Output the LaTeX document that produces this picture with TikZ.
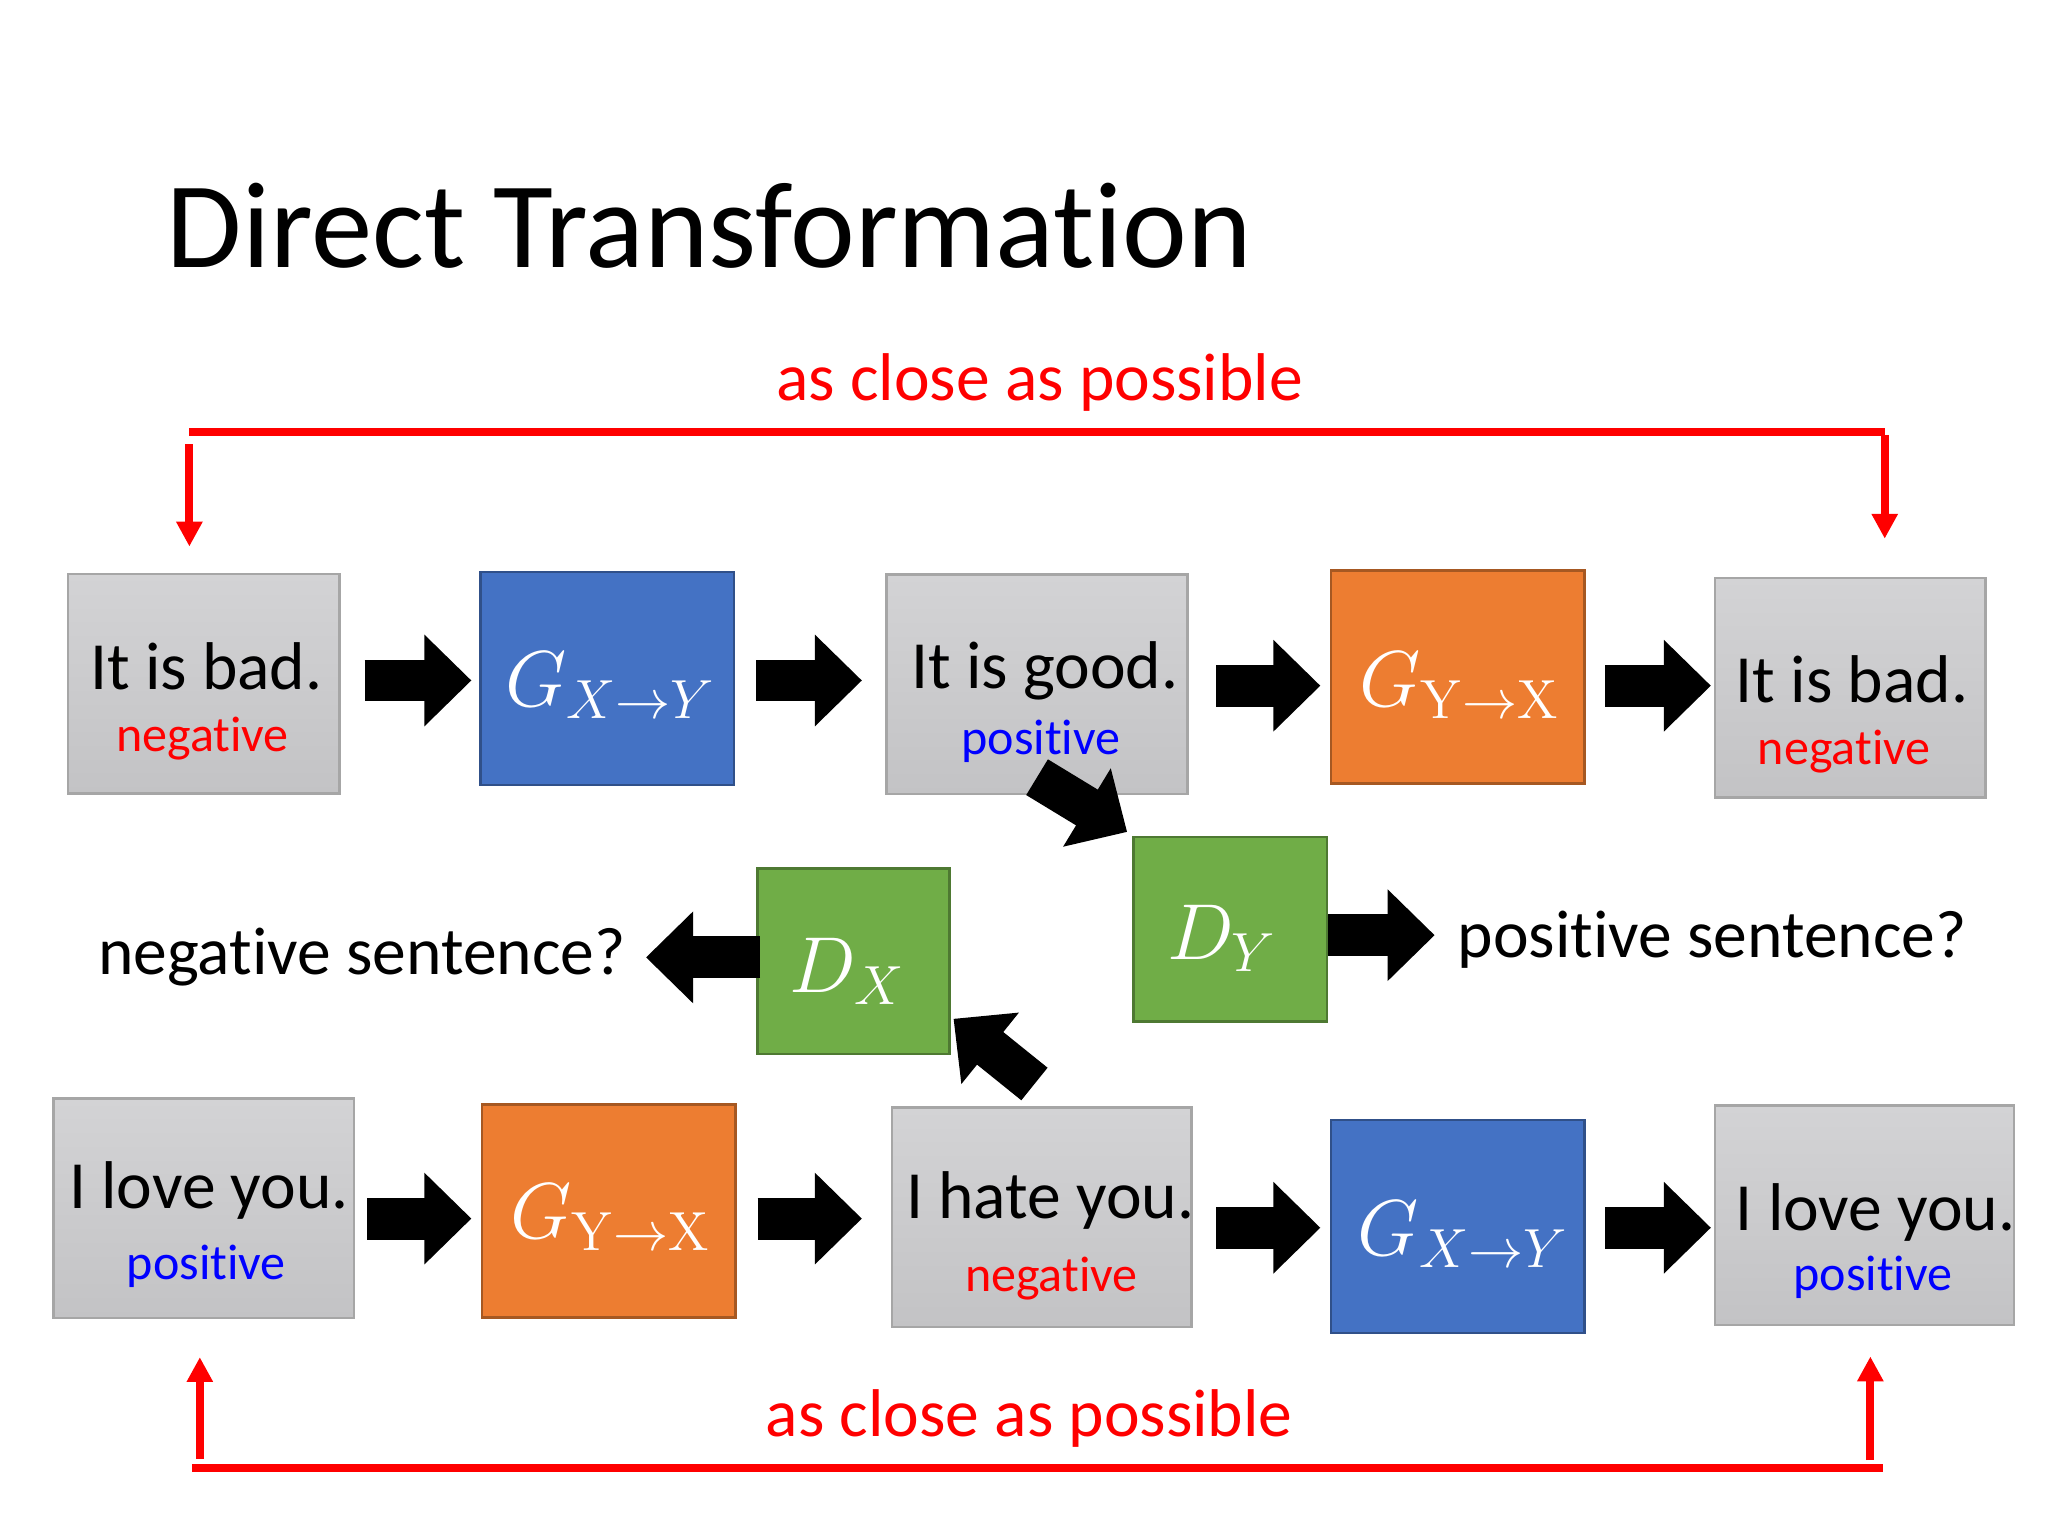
\documentclass[tikz,border=0pt]{standalone}
\usepackage[no-math]{fontspec}
\setmainfont{Carlito}[Ligatures=NoCommon, RawFeature={-liga;-clig;-calt}]
\usepackage{tikz}
\usetikzlibrary{positioning}
\usetikzlibrary{arrows.meta,shapes}
\usetikzlibrary{shadings}
\usetikzlibrary{calc}

\definecolor{genblue}{RGB}{68,114,196}
\definecolor{genorange}{RGB}{237,125,49}
\definecolor{discgreen}{RGB}{112,173,71}
\definecolor{topgray}{RGB}{211,211,213}
\definecolor{botgray}{RGB}{195,195,197}
\definecolor{rimgray}{RGB}{166,166,166}

\begin{document}
\begin{tikzpicture}[x=0.01cm, y=-0.01cm,
    sentbox/.style={draw=rimgray, line width=0.02cm, top color=topgray, bottom color=botgray, inner sep=0pt},
    genbox/.style={draw=#1!70!black, fill=#1, line width=0.02cm, inner sep=0pt},
    sent/.style={inner sep=0pt, font=\fontsize{14.7}{17}\selectfont},
    tag/.style={inner sep=0pt, font=\fontsize{10.9}{13}\selectfont},
    sym/.style={inner sep=0pt, text=white, font=\fontsize{16.5}{19}\selectfont},
    blockarrow/.style={line width=0.32cm, -{Triangle[width=0.68cm,length=0.36cm]}},
    closeline/.style={red, line width=0.06cm},
    closearrow/.style={red, line width=0.06cm, -{Triangle[width=0.19cm,length=0.19cm]}}]

    \useasboundingbox (0,0) rectangle (1568,1176);

    %title
    \node[anchor=base west, inner sep=0pt, font=\fontsize{26.7}{30}\selectfont] (title) at (127,205) {Direct Transformation};

    %sentence boxes
    \foreach \cx/\cy/\w/\name in {156/523.5/2.08/s1, 794/524/2.30/s2, 1416.5/526.5/2.07/s3, 156/925/2.30/s4, 797.5/932/2.29/s5, 1427.5/930.5/2.29/s6}{
        \node[sentbox, minimum width=\w cm, minimum height=1.68cm] (\name) at (\cx,\cy) {};
    }

    \foreach \cx/\cy/\txt/\name in {158/528/It is bad./t1, 800/527/It is good./t2, 1418/538/It is bad./t3, 160/925/I love you./t4, 804/933/I hate you./t5, 1436/942/I love you./t6}{
        \node[sent, anchor=base] (\name) at (\cx,\cy) {\txt};
    }

    \foreach \cx/\cy/\txt/\col/\name in {155/575/negative/red/l1, 797/578/positive/blue/l2, 1412/585/negative/red/l3, 158/980/positive/blue/l4, 805/989/negative/red/l5, 1434/988/positive/blue/l6}{
        \node[tag, text=\col, anchor=base] (\name) at (\cx,\cy) {\txt};
    }

    %generators
    \foreach \cx/\cy/\col/\name in {465/519.5/genblue/g1, 1116/518.5/genorange/g2, 466/927/genorange/g3, 1116/939/genblue/g4}{
        \node[genbox=\col, minimum width=1.94cm, minimum height=1.63cm] (\name) at (\cx,\cy) {};
    }

    \foreach \cx/\cy/\txt/\name in {386/541/{$G_{X\to Y}$}/n1, 1040/541/{$G_{\mathrm{Y\to X}}$}/n2, 390/948/{$G_{\mathrm{Y\to X}}$}/n3, 1039/961/{$G_{X\to Y}$}/n4}{
        \node[sym, anchor=base west] (\name) at (\cx,\cy) {\txt};
    }

    %discriminators
    \node[genbox=discgreen, minimum width=1.47cm, minimum height=1.42cm] (dx) at (653.5,736) {};
    \node[genbox=discgreen, minimum width=1.48cm, minimum height=1.41cm] (dy) at (942,711.5) {};
    \node[sym, anchor=base west] (nx) at (604,760) {$D_X$};
    \node[sym, anchor=base west] (ny) at (893,735) {$D_Y$};

    \node[sent, anchor=base] (qx) at (277,746) {negative sentence?};
    \node[sent, anchor=base] (qy) at (1311,733) {positive sentence?};

    %block arrows
    \foreach \a/\b/\y/\sa/\sb in {s1/g1/521/1.8mm/0.6mm, g1/s2/521/1.6mm/1.8mm, s2/g2/525/2.1mm/0.7mm, g2/s3/525/1.5mm/0.2mm, s4/g3/933/0.9mm/0.7mm, g3/s5/933/1.6mm/2.2mm, s5/g4/940/1.8mm/0.7mm, g4/s6/940/1.5mm/0.2mm}{
        \draw[blockarrow, shorten <=\sa, shorten >=\sb] (\a.east |- 0,\y) -- (\b.west |- 0,\y);
    }

    \draw[blockarrow, shorten >=0.17cm] (dy.east |- 0,716) -- (qy.west |- 0,716);
    \draw[blockarrow, shorten <=-0.03cm, shorten >=0.15cm] (dx.west |- 0,733) -- (qx.east |- 0,733);
    \draw[blockarrow] ([yshift=0.14cm]s2.south) -- ([xshift=-0.04cm,yshift=0.03cm]dy.north west);
    \draw[blockarrow] ([xshift=-0.055cm,yshift=0.17cm]s5.north) -- ([xshift=0.02cm,yshift=0.28cm]dx.south east);

    %as close as possible
    \coordinate (tl) at (145,331);
    \coordinate (tr) at (1443,331);
    \draw[closeline] (tl) -- (tr);
    \draw[closearrow, shorten <=0.09cm, shorten >=0.2cm] (tl) -- (tl |- s1.north);
    \draw[closearrow, shorten <=0.02cm, shorten >=0.29cm] (tr) -- (tr |- s3.north);

    \coordinate (bl) at (153,1124);
    \coordinate (br) at (1432,1124);
    \draw[closeline] ([xshift=-0.06cm]bl) -- ([xshift=0.1cm]br);
    \draw[closearrow, shorten <=0.07cm, shorten >=0.29cm] (bl) -- (bl |- s4.south);
    \draw[closearrow, shorten <=0.06cm, shorten >=0.23cm] (br) -- (br |- s6.south);

    \node[sent, red, anchor=base] (c1) at (796,307) {as close as possible};
    \node[sent, red, anchor=base] (c2) at (788,1100) {as close as possible};

\end{tikzpicture}
\end{document}
